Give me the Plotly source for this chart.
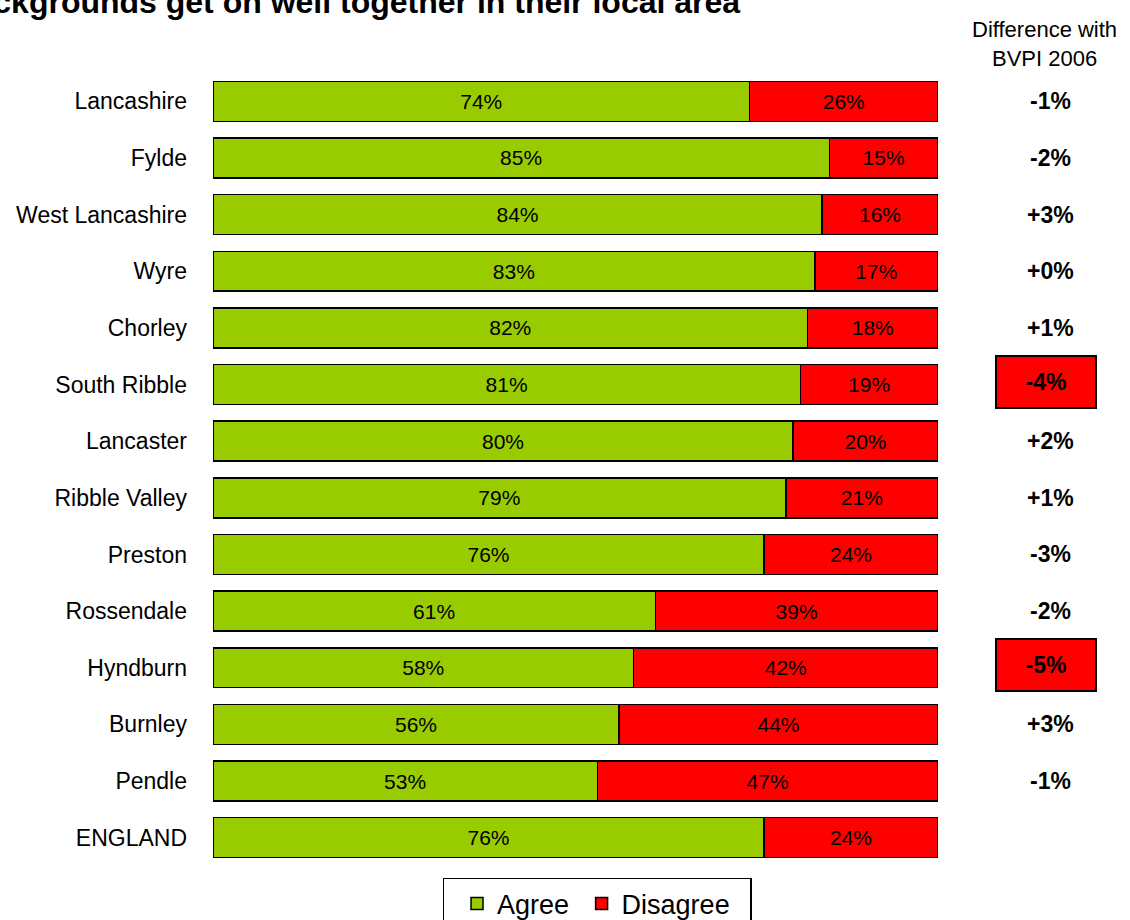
import plotly.graph_objects as go

areas = ["Lancashire", "Fylde", "West Lancashire", "Wyre", "Chorley", "South Ribble",
         "Lancaster", "Ribble Valley", "Preston", "Rossendale", "Hyndburn", "Burnley",
         "Pendle", "ENGLAND"]
agree = [74, 85, 84, 83, 82, 81, 80, 79, 76, 61, 58, 56, 53, 76]
disagree = [26, 15, 16, 17, 18, 19, 20, 21, 24, 39, 42, 44, 47, 24]
difference = ["-1%", "-2%", "+3%", "+0%", "+1%", "-4%", "+2%", "+1%", "-3%", "-2%",
              "-5%", "+3%", "-1%", ""]
flagged = ["South Ribble", "Hyndburn"]

FONT = "Arial, Liberation Sans, sans-serif"
GREEN = "#99CC00"
RED = "#FF0000"
NBSP = "\u00a0"

fig = go.Figure()
fig.add_trace(go.Bar(
    y=areas, x=agree, name="Agree" + NBSP, orientation="h",
    marker=dict(color=GREEN, line=dict(color="#000000", width=1.5)),
    text=[f"{v}%" for v in agree], textposition="inside", insidetextanchor="middle",
    textangle=0, constraintext="none",
    textfont=dict(family=FONT, size=21, color="#000000"),
))
fig.add_trace(go.Bar(
    y=areas, x=disagree, name="Disagree" + NBSP * 2, orientation="h",
    marker=dict(color=RED, line=dict(color="#000000", width=1.5)),
    text=[f"{v}%" for v in disagree], textposition="inside", insidetextanchor="middle",
    textangle=0, constraintext="none",
    textfont=dict(family=FONT, size=21, color="#000000"),
))

annotations = []
# chart title (runs off the top-left edge)
annotations.append(dict(
    text="<b>% who agree that people from different backgrounds get on well together in their local area</b>",
    xref="paper", yref="paper", x=0.7297, y=1.0895, xanchor="right", yanchor="middle",
    showarrow=False, font=dict(family=FONT, size=32, color="#000000"),
))
# right-hand column header
annotations.append(dict(
    text="Difference with<br>BVPI 2006", xref="paper", yref="paper",
    x=1.147, y=1.0365, xanchor="center", yanchor="middle", showarrow=False,
    font=dict(family=FONT, size=22, color="#000000"),
))
for area, d in zip(areas, difference):
    if not d:
        continue
    a = dict(text=f"<b>{d}</b>", xref="paper", yref="y", x=1.155, y=area,
             xanchor="center", yanchor="middle", showarrow=False,
             font=dict(family=FONT, size=23, color="#000000"))
    if area in flagged:
        a.update(bgcolor=RED, bordercolor="#000000", borderwidth=2,
                 width=96, height=48, borderpad=1, x=1.149, yshift=3)
    annotations.append(a)

fig.update_layout(
    width=1130, height=920,
    margin=dict(l=213, r=192, t=73, b=54, autoexpand=False),
    paper_bgcolor="#FFFFFF", plot_bgcolor="#FFFFFF",
    barmode="stack", bargap=0.295,
    showlegend=True,
    legend=dict(orientation="h", x=0.53, y=-0.015, xanchor="center", yanchor="top",
                font=dict(family=FONT, size=27, color="#000000"),
                bordercolor="#000000", borderwidth=1.5, bgcolor="#FFFFFF",
                traceorder="normal",
                title=dict(text=NBSP, side="left", font=dict(size=10))),
    annotations=annotations,
    font=dict(family=FONT, color="#000000"),
)
fig.update_xaxes(range=[0, 100], visible=False, showgrid=False, zeroline=False)
fig.update_yaxes(autorange="reversed", showgrid=False, zeroline=False, showline=False,
                 ticks="", ticklabelstandoff=25,
                 tickfont=dict(family=FONT, size=23, color="#000000"))

fig.write_html("out.html")
